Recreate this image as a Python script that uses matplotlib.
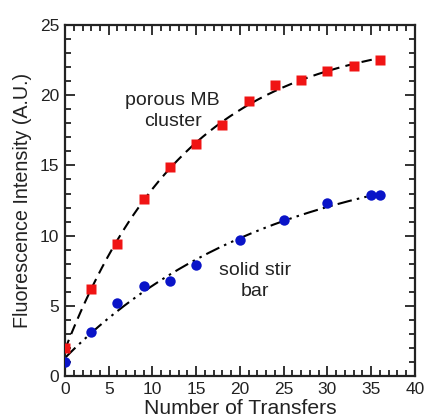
import numpy as np
import matplotlib
matplotlib.use("Agg")
import matplotlib.pyplot as plt

plt.rcParams['font.family'] = ['Liberation Sans', 'DejaVu Sans']

# Data
porous_x = [0, 3, 6, 9, 12, 15, 18, 21, 24, 27, 30, 33, 36]
porous_y = [2.0, 6.2, 9.4, 12.6, 14.9, 16.5, 17.9, 19.6, 20.7, 21.1, 21.7, 22.1, 22.5]
solid_x = [0, 3, 6, 9, 12, 15, 20, 25, 30, 35, 36]
solid_y = [1.0, 3.1, 5.2, 6.4, 6.8, 7.9, 9.7, 11.1, 12.3, 12.9, 12.9]
x_ticks = [0, 5, 10, 15, 20, 25, 30, 35, 40]
y_ticks = [0, 5, 10, 15, 20, 25]


def exp_fit(x, y):
    x = np.asarray(x, float)
    y = np.asarray(y, float)
    best = None
    for k in np.linspace(0.005, 0.3, 600):
        M = np.column_stack([np.ones_like(x), np.exp(-k * x)])
        coef, *_ = np.linalg.lstsq(M, y, rcond=None)
        r = np.sum((M @ coef - y) ** 2)
        if best is None or r < best[0]:
            best = (r, k, coef)
    _, k, coef = best
    return lambda t: coef[0] + coef[1] * np.exp(-k * t)


fig = plt.figure(figsize=(4.26, 4.18), dpi=100)
ax = fig.add_axes([0.1526, 0.1005, 0.8214, 0.8395])

xs = np.linspace(0, 36, 300)
f1 = exp_fit(porous_x, porous_y)
f2 = exp_fit(solid_x, solid_y)
l1, = ax.plot(xs, f1(xs), color='black', lw=1.5, zorder=2)
l1.set_dashes((5, 3))
l2, = ax.plot(xs, f2(xs), color='black', lw=1.5, zorder=2)
l2.set_dashes((7, 2.5, 1.2, 2.5, 1.2, 2.5))

ax.plot(porous_x, porous_y, 's', color='#f01414', ms=7.5, mec='none', zorder=3)
ax.plot(solid_x, solid_y, 'o', color='#0a14c8', ms=7.5, mec='none', zorder=3)

ax.text(12.3, 18.85, 'porous MB\ncluster', ha='center', va='center', fontsize=14,
        color='#222222', linespacing=1.3)
ax.text(21.7, 6.75, 'solid stir\nbar', ha='center', va='center', fontsize=14,
        color='#222222', linespacing=1.3)

ax.set_xlim(0, 40)
ax.set_ylim(0, 25)
ax.set_xticks(x_ticks)
ax.set_yticks(y_ticks)
ax.set_xticks(np.arange(0, 41, 1), minor=True)
ax.set_yticks(np.arange(0, 26, 1), minor=True)
ax.tick_params(which='both', direction='in', top=True, right=True, width=1.3,
               labelsize=12.5, colors='#222222', labelcolor='#222222')
ax.tick_params(which='major', length=7, pad=4)
ax.tick_params(which='minor', length=4)
for s in ax.spines.values():
    s.set_linewidth(1.6)
    s.set_color('#222222')

ax.set_xlabel('Number of Transfers', fontsize=15.2, color='#222222', labelpad=2)
ax.set_ylabel('Fluorescence Intensity (A.U.)', fontsize=14.2, color='#222222', labelpad=6)

fig.savefig('out.png', dpi=100)
